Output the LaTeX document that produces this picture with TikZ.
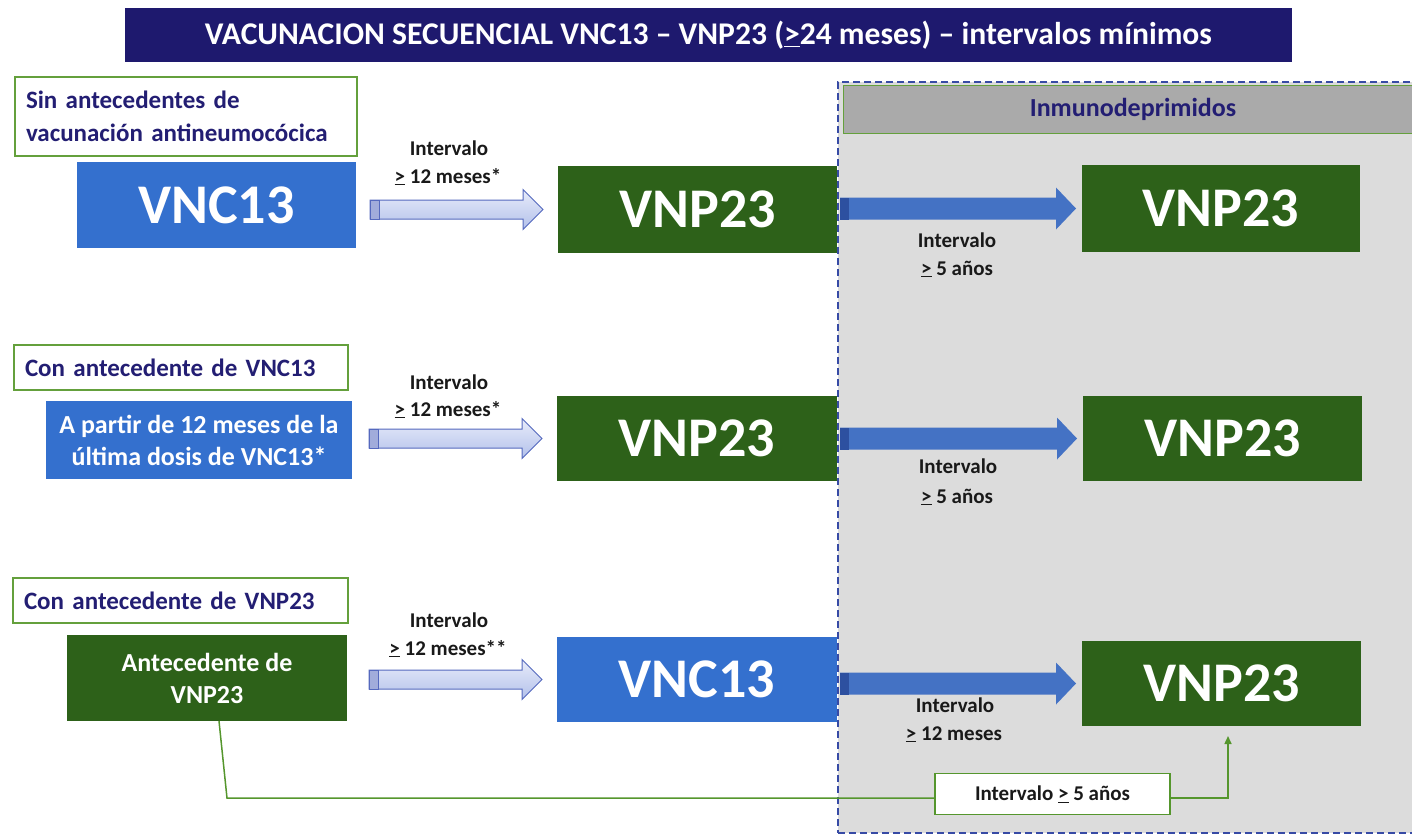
\documentclass[tikz,border=0pt]{standalone}
\usepackage{fontspec}
\setmainfont{Carlito}
\usetikzlibrary{arrows.meta,calc}
\definecolor{navy}{RGB}{30,25,110}
\definecolor{txtnavy}{RGB}{35,30,115}
\definecolor{vblue}{RGB}{52,112,206}
\definecolor{vgreen}{RGB}{45,97,25}
\definecolor{lblgreen}{RGB}{100,160,60}
\definecolor{panelgray}{RGB}{220,220,220}
\definecolor{headgray}{RGB}{170,170,170}
\definecolor{dashblue}{RGB}{55,75,165}
\definecolor{arrblue}{RGB}{68,114,196}
\definecolor{arrdark}{RGB}{45,80,160}
\definecolor{lighttop}{RGB}{232,236,250}
\definecolor{lightbot}{RGB}{178,192,234}
\definecolor{lightline}{RGB}{85,105,190}
\definecolor{linkgreen}{RGB}{85,150,45}
\definecolor{txtdark}{RGB}{25,25,25}
% block arrow: #1 style, #2 start, #3 end, #4 half shaft, #5 half head, #6 head length
\newcommand\blockarrow[6]{%
  \path[#1] let \p1=#2, \p2=#3 in
    (\x1,\y2+#4) -- (\x2-#6,\y2+#4) -- (\x2-#6,\y2+#5) -- (\x2,\y2)
    -- (\x2-#6,\y2-#5) -- (\x2-#6,\y2-#4) -- (\x1,\y2-#4) -- cycle;}
% bevel strip at the tail: #1 style, #2 start, #3 end, #4 half shaft
\newcommand\arrowtail[4]{%
  \path[#1] let \p1=#2, \p2=#3 in (\x1,\y2-#4) rectangle (\x1+9pt,\y2+#4);}
\begin{document}
\begin{tikzpicture}[x=1pt,y=-1pt,
  every node/.style={inner sep=0pt,outer sep=0pt,font=\bfseries},
  titlebox/.style={fill=navy,text=white,font=\bfseries\fontsize{31.6}{36}\selectfont},
  panel/.style={draw=dashblue,fill=panelgray,line width=2pt,dash pattern=on 7pt off 4pt},
  headbox/.style={draw=lblgreen,fill=headgray,line width=1pt,text=txtnavy,font=\bfseries\fontsize{26}{30}\selectfont},
  lab/.style={draw=lblgreen,fill=white,line width=1.5pt,text=txtnavy,align=left,font=\bfseries\fontsize{25}{33}\selectfont},
  bluebox/.style={fill=vblue,text=white},
  greenbox/.style={fill=vgreen,text=white},
  bigtxt/.style={font=\bfseries\fontsize{56}{60}\selectfont},
  midtxt/.style={align=center,font=\bfseries\fontsize{26}{32}\selectfont},
  ilbl/.style={text=txtdark,anchor=base,font=\bfseries\fontsize{21}{25}\selectfont},
  ibox/.style={draw=linkgreen,fill=white,line width=1.5pt,text=txtdark,font=\bfseries\fontsize{21}{25}\selectfont},
  lightarrow/.style={draw=lightline,line width=1pt,top color=lighttop,bottom color=lightbot},
  lighttail/.style={draw=lightline,line width=1pt,fill=lightline!55},
  bluearrow/.style={fill=arrblue},
  bluetail/.style={fill=arrdark},
  link/.style={draw=linkgreen,line width=1.5pt}]
\useasboundingbox (0,0) rectangle (1412,835);
\clip (0,0) rectangle (1412,835);

% title
\node[titlebox,minimum width=1167pt,minimum height=54pt] (title) at (708.5,35)
  {VACUNACION SECUENCIAL VNC13 – VNP23 (\underline{>}24 meses) – intervalos mínimos};

% immunocompromised panel
\node[panel,minimum width=620pt,minimum height=751pt,anchor=north west] (panel) at (838,82) {};
\node[headbox,minimum width=580pt,minimum height=48pt] (head) at (1133,109) {Inmunodeprimidos};

% row 1
\node[lab,minimum width=342pt,minimum height=79pt,text width=320pt] (lab1) at (186,116.5)
  {Sin antecedentes de\\vacunación antineumocócica};
\node[bluebox,bigtxt,minimum width=279pt,minimum height=86pt] (a1) at (216.5,205) {VNC13};
\node[greenbox,bigtxt,minimum width=279pt,minimum height=87pt] (b1) at (697.5,209.5) {VNP23};
\node[greenbox,bigtxt,minimum width=278pt,minimum height=87pt] (c1) at (1221,208.5) {VNP23};

% row 2
\node[lab,minimum width=334pt,minimum height=45pt,text width=312pt] (lab2) at (181,367.5)
  {Con antecedente de VNC13};
\node[bluebox,midtxt,minimum width=306pt,minimum height=78pt] (a2) at (199,440)
  {A partir de 12 meses de la\\última dosis de VNC13*};
\node[greenbox,bigtxt,minimum width=280pt,minimum height=85pt] (b2) at (697,438.5) {VNP23};
\node[greenbox,bigtxt,minimum width=279pt,minimum height=85pt] (c2) at (1222.5,438.5) {VNP23};

% row 3
\node[lab,minimum width=335pt,minimum height=45pt,text width=313pt] (lab3) at (180.5,600.5)
  {Con antecedente de VNP23};
\node[greenbox,midtxt,minimum width=280pt,minimum height=86pt] (a3) at (207,678)
  {Antecedente de\\VNP23};
\node[bluebox,bigtxt,minimum width=280pt,minimum height=85pt] (b3) at (697,679.5) {VNC13};
\node[greenbox,bigtxt,minimum width=279pt,minimum height=85pt] (c3) at (1221.5,683.5) {VNP23};

% arrows between columns
\foreach \r in {1,2,3}{
  \blockarrow{lightarrow}{([xshift=-188pt]b\r.west)}{([xshift=-15pt]b\r.west)}{9.5pt}{20pt}{20pt}
  \arrowtail{lighttail}{([xshift=-188pt]b\r.west)}{([xshift=-15pt]b\r.west)}{9.5pt}
  \blockarrow{bluearrow}{([xshift=3pt]b\r.east)}{([xshift=-6pt]c\r.west)}{11pt}{21pt}{20pt}
  \arrowtail{bluetail}{([xshift=3pt]b\r.east)}{([xshift=-6pt]c\r.west)}{11pt}
}

% interval labels, left arrows
\node[ilbl] (l1a) at (449,155) {Intervalo};
\node[ilbl] (l1b) at (448,183) {\underline{>} 12 meses*};
\node[ilbl] (l2a) at (449,389) {Intervalo};
\node[ilbl] (l2b) at (448,416) {\underline{>} 12 meses*};
\node[ilbl] (l3a) at (449,627) {Intervalo};
\node[ilbl] (l3b) at (448,655) {\underline{>} 12 meses**};

% interval labels, right arrows
\node[ilbl] (r1a) at (957,247) {Intervalo};
\node[ilbl] (r1b) at (957,275) {\underline{>} 5 años};
\node[ilbl] (r2a) at (958,473) {Intervalo};
\node[ilbl] (r2b) at (957,503) {\underline{>} 5 años};
\node[ilbl] (r3a) at (955,712) {Intervalo};
\node[ilbl] (r3b) at (954,740) {\underline{>} 12 meses};

% bottom connector
\node[ibox,minimum width=235pt,minimum height=41pt] (box5) at (1052.5,794) {Intervalo \underline{>} 5 años};
\coordinate (k1) at (227,798);
\coordinate (k2) at (1228,798);
\draw[link] ([xshift=12pt]a3.south) -- (k1) -- (k1 -| box5.west);
\draw[link,-{Triangle[length=8pt,width=7pt]}] (box5.east |- k2) -- (k2) -- ($(k2 |- c3.south)+(0,10)$);
\end{tikzpicture}
\end{document}
